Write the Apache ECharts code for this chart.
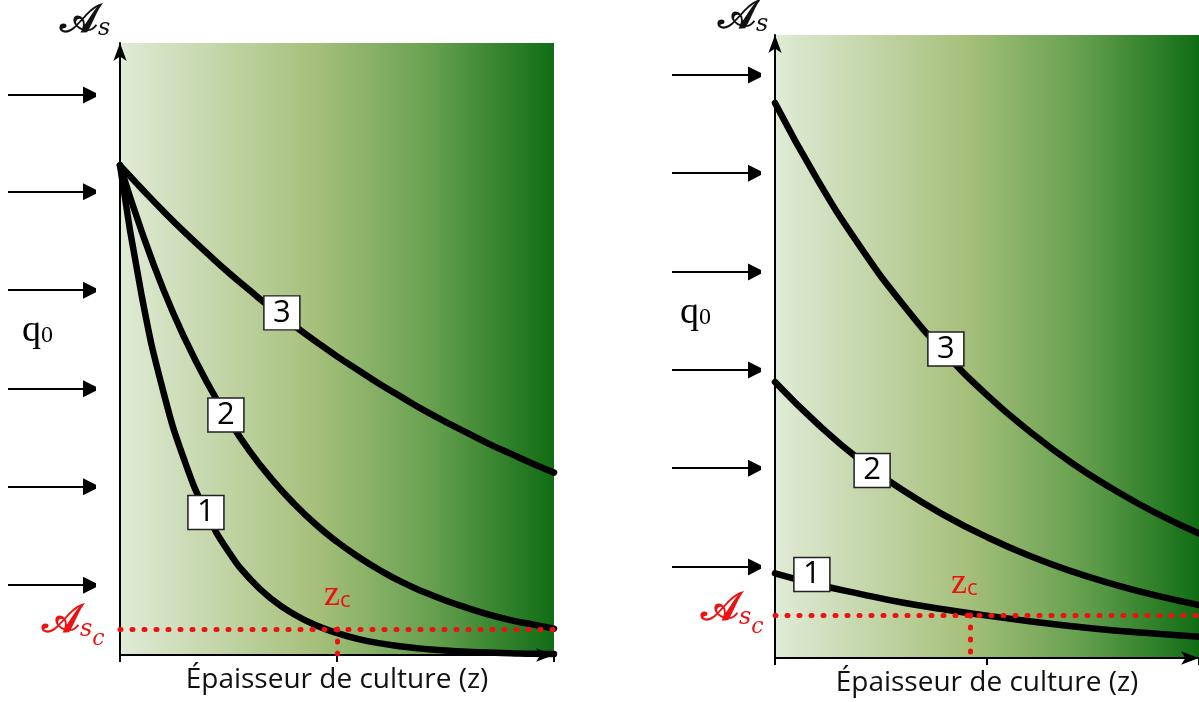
<!DOCTYPE html>
<html>
<head>
<meta charset="utf-8">
<script src="https://cdn.jsdelivr.net/npm/echarts@6/dist/echarts.min.js"></script>
<style>
  html, body { margin: 0; padding: 0; background: #fff; }
  #chart { width: 1199px; height: 702px; }
</style>
</head>
<body>
<div id="chart"></div>
<script>
// épaisseur de culture (z), unités arbitraires 0..10
const zLeft = [0, 0.5, 1, 1.5, 2, 2.5, 3, 3.5, 4, 4.5, 5, 5.5, 6, 6.5, 7, 7.5, 8, 8.5, 9, 9.5, 10]
const leftCurve1 = [8.0, 5.87, 4.30, 3.15, 2.31, 1.69, 1.24, 0.91, 0.67, 0.49, 0.36, 0.26, 0.19, 0.14, 0.10, 0.075, 0.055, 0.04, 0.03, 0.02, 0.015]
const leftCurve2 = [8.0, 6.92, 5.97, 5.16, 4.46, 3.85, 3.32, 2.87, 2.48, 2.14, 1.85, 1.60, 1.38, 1.19, 1.03, 0.89, 0.77, 0.66, 0.57, 0.50, 0.43]
const leftCurve3 = [8.0, 7.62, 7.25, 6.90, 6.57, 6.25, 5.95, 5.66, 5.39, 5.13, 4.88, 4.65, 4.42, 4.21, 4.00, 3.81, 3.63, 3.45, 3.29, 3.13, 2.98]

const zRight = [0, 1, 2, 3, 4, 5, 6, 7, 8, 9, 10]
const rightCurve1 = [1.36, 1.18, 1.03, 0.89, 0.78, 0.68, 0.59, 0.51, 0.44, 0.39, 0.34]
const rightCurve2 = [4.43, 3.76, 3.18, 2.70, 2.29, 1.94, 1.64, 1.39, 1.18, 1.00, 0.85]
const rightCurve3 = [8.91, 7.68, 6.61, 5.69, 4.90, 4.22, 3.64, 3.13, 2.70, 2.32, 2.00]

// seuil As_c et épaisseur critique z_c
const leftAsc = 0.425
const leftZc = 5.0
const rightAsc = 0.69
const rightZc = 4.6

// étiquettes des courbes [z, As, texte]
const leftBoxes = [[1.98, 2.33, '1'], [2.44, 3.92, '2'], [3.73, 5.59, '3']]
const rightBoxes = [[0.87, 1.34, '1'], [2.29, 3.01, '2'], [4.03, 4.96, '3']]

// flux lumineux incident q0 (hauteurs des flèches)
const arrowsLeft = [9.15, 7.57, 5.96, 4.35, 2.75, 1.14]
const arrowsRight = [9.36, 7.79, 6.21, 4.64, 3.07, 1.49]

const chart = echarts.init(document.getElementById('chart'))

const green = new echarts.graphic.LinearGradient(0, 0, 1, 0, [
  { offset: 0, color: '#e0ebd6' },
  { offset: 0.45, color: '#a6c07b' },
  { offset: 0.72, color: '#66a04f' },
  { offset: 1, color: '#106d14' }
])

const axisLine = {
  show: true,
  onZero: false,
  symbol: ['none', 'arrow'],
  symbolSize: [10, 18],
  lineStyle: { color: '#000', width: 2 }
}

function mainX(gi) {
  return {
    gridIndex: gi, type: 'value', min: 0, max: 10, interval: 5,
    axisLine: axisLine,
    axisTick: { show: true, length: 7, lineStyle: { color: '#000', width: 2 } },
    axisLabel: { show: false },
    splitLine: { show: false },
    name: 'Épaisseur de culture (z)',
    nameLocation: 'middle',
    nameGap: 11,
    nameTextStyle: { fontFamily: 'Open Sans', fontSize: 28, color: '#111' }
  }
}
function mainY(gi) {
  return {
    gridIndex: gi, type: 'value', min: 0, max: 10,
    axisLine: axisLine,
    axisTick: { show: false },
    axisLabel: { show: false },
    splitLine: { show: false }
  }
}
function hiddenAxis(gi, max) {
  return { gridIndex: gi, type: 'value', min: 0, max: max, show: false }
}

function curve(xi, z, vals) {
  return {
    type: 'line', xAxisIndex: xi, yAxisIndex: xi,
    data: z.map((v, i) => [v, vals[i]]),
    smooth: true, symbol: 'none', z: 3,
    lineStyle: { color: '#000', width: 6.5, cap: 'round' }
  }
}

function boxes(xi, list) {
  return {
    type: 'scatter', xAxisIndex: xi, yAxisIndex: xi, z: 6,
    symbol: 'rect', symbolSize: [36, 34],
    itemStyle: { color: '#fff', borderColor: '#222', borderWidth: 1.5, opacity: 1 },
    label: {
      show: true, position: 'inside', color: '#000',
      fontFamily: 'Open Sans', fontSize: 31,
      formatter: p => p.data[2]
    },
    data: list
  }
}

const redDots = { color: '#ee1111', width: 5, type: [1, 11], cap: 'round' }

function threshold(xi, asc, zc) {
  return {
    type: 'line', xAxisIndex: xi, yAxisIndex: xi, data: [], z: 5,
    markLine: {
      silent: true, symbol: 'none', label: { show: false },
      lineStyle: redDots,
      data: [
        [{ coord: [0, asc] }, { coord: [10, asc] }],
        [{ coord: [zc, asc] }, { coord: [zc, 0] }]
      ]
    }
  }
}

function arrows(xi, ys) {
  return {
    type: 'lines', coordinateSystem: 'cartesian2d', xAxisIndex: xi, yAxisIndex: xi,
    symbol: ['none', 'triangle'], symbolSize: 17,
    lineStyle: { color: '#000', width: 2, opacity: 1, curveness: 0 },
    data: ys.map(y => ({ coords: [[0, y], [0.96, y]] }))
  }
}

const asRich = {
  a: { fontFamily: 'DejaVu Serif', fontSize: 40, fontWeight: 'bold', fill: '#111' },
  s: { fontFamily: 'DejaVu Serif', fontSize: 24, fontStyle: 'italic', fill: '#111', padding: [14, 0, 0, 0] }
}
const ascRich = {
  a: { fontFamily: 'DejaVu Serif', fontSize: 40, fontWeight: 'bold', fill: '#ee1111' },
  s: { fontFamily: 'DejaVu Serif', fontSize: 24, fontStyle: 'italic', fill: '#ee1111', padding: [16, 0, 0, 0] },
  c: { fontFamily: 'DejaVu Serif', fontSize: 22, fontStyle: 'italic', fill: '#ee1111', padding: [34, 0, 0, 0] }
}
const qRich = {
  q: { fontFamily: 'Liberation Serif', fontSize: 38, fill: '#000' },
  o: { fontFamily: 'Liberation Serif', fontSize: 24, fill: '#000', padding: [10, 0, 0, 0] }
}
const zcRich = {
  z: { fontFamily: 'Liberation Serif', fontSize: 36, fill: '#ee1111' },
  c: { fontFamily: 'Open Sans', fontSize: 22, fill: '#ee1111', padding: [10, 0, 0, 0] }
}

function txt(x, y, text, rich) {
  return { type: 'text', left: x, top: y, z: 10, style: { text: text, rich: rich } }
}

const option = {
  animation: false,
  grid: [
    { left: 120, top: 43, width: 434, height: 612, show: true, borderWidth: 0, backgroundColor: green },
    { left: 8, top: 43, width: 87, height: 612 },
    { left: 775, top: 35, width: 424, height: 625, show: true, borderWidth: 0, backgroundColor: green },
    { left: 672, top: 35, width: 88, height: 625 }
  ],
  xAxis: [mainX(0), hiddenAxis(1, 1), mainX(2), hiddenAxis(3, 1)],
  yAxis: [mainY(0), hiddenAxis(1, 10), mainY(2), hiddenAxis(3, 10)],
  series: [
    curve(0, zLeft, leftCurve1),
    curve(0, zLeft, leftCurve2),
    curve(0, zLeft, leftCurve3),
    curve(2, zRight, rightCurve1),
    curve(2, zRight, rightCurve2),
    curve(2, zRight, rightCurve3),
    threshold(0, leftAsc, leftZc),
    threshold(2, rightAsc, rightZc),
    boxes(0, leftBoxes),
    boxes(2, rightBoxes),
    arrows(1, arrowsLeft),
    arrows(3, arrowsRight)
  ],
  graphic: [
    txt(60, 2, '{a|𝒜}{s|s}', asRich),
    txt(718, -2, '{a|𝒜}{s|s}', asRich),
    txt(22, 312, '{q|q}{o|0}', qRich),
    txt(680, 294, '{q|q}{o|0}', qRich),
    txt(42, 602, '{a|𝒜}{s|s}{c|c}', ascRich),
    txt(701, 590, '{a|𝒜}{s|s}{c|c}', ascRich),
    txt(324, 578, '{z|z}{c|c}', zcRich),
    txt(951, 566, '{z|z}{c|c}', zcRich)
  ]
}

chart.setOption(option)
</script>
</body>
</html>
